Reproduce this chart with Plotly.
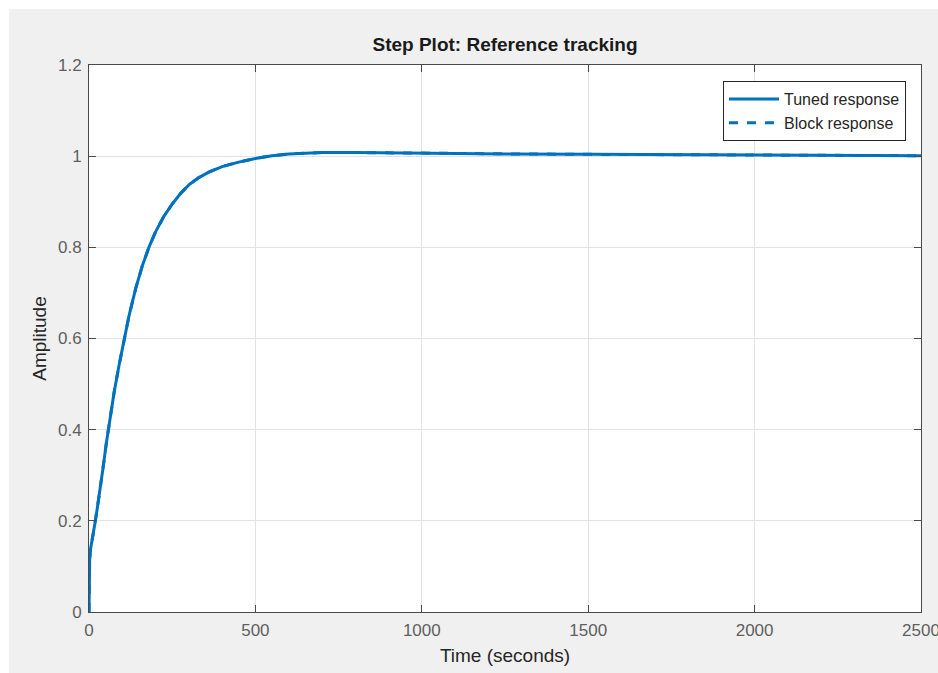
import plotly.graph_objects as go

# Step response samples (time in seconds, amplitude)
time_s = [0, 0.5, 1, 2, 4, 7, 12, 18, 25, 33, 42, 52, 63, 75, 90, 106, 120,
          140, 160, 180, 200, 225, 250, 275, 300, 330, 360, 400, 450, 500,
          550, 600, 650, 700, 800, 900, 1000, 1250, 1500, 1750, 2000, 2250,
          2500]
tuned_amp = [0, 0.06, 0.09, 0.115, 0.135, 0.15, 0.17, 0.195, 0.228, 0.265,
             0.315, 0.37, 0.425, 0.48, 0.54, 0.6, 0.649, 0.709, 0.759, 0.8,
             0.834, 0.868, 0.895, 0.918, 0.937, 0.953, 0.965, 0.977, 0.987,
             0.995, 1.001, 1.005, 1.007, 1.008, 1.008, 1.007, 1.006, 1.005,
             1.004, 1.003, 1.002, 1.0015, 1.001]
block_amp = list(tuned_amp)

x_ticks = [0, 500, 1000, 1500, 2000, 2500]
y_ticks = [0, 0.2, 0.4, 0.6, 0.8, 1, 1.2]
y_tick_text = ["0", "0.2", "0.4", "0.6", "0.8", "1", "1.2"]

LINE = "#0072BD"
FONT = "Liberation Sans, Arial, sans-serif"
AXIS = "#4a4a4a"
TICKTXT = "#5f5f5f"

fig = go.Figure()
fig.add_trace(go.Scatter(x=time_s, y=tuned_amp, mode="lines", name="Tuned response",
                         line=dict(color=LINE, width=3)))
fig.add_trace(go.Scatter(x=time_s, y=block_amp, mode="lines", name="Block response",
                         line=dict(color=LINE, width=3, dash="dash")))

W, H = 938, 673
ml, mr, mt, mb = 89, 17, 65, 61
pw, ph = W - ml - mr, H - mt - mb

def px_x(p):
    return (p - ml) / pw

def px_y(p):
    return (H - mb - p) / ph

# white frame strips around the grey figure background
fig.add_shape(type="rect", xref="paper", yref="paper", layer="below",
              x0=px_x(0), x1=px_x(9), y0=px_y(H), y1=px_y(0),
              fillcolor="white", line=dict(width=0))
fig.add_shape(type="rect", xref="paper", yref="paper", layer="below",
              x0=px_x(0), x1=px_x(W), y0=px_y(9), y1=px_y(0),
              fillcolor="white", line=dict(width=0))

axis_common = dict(
    showline=True, linecolor=AXIS, linewidth=1, mirror="ticks",
    ticks="inside", ticklen=7, tickcolor=AXIS, tickwidth=1,
    showgrid=True, gridcolor="#e3e3e3", gridwidth=1, zeroline=False,
    tickfont=dict(family=FONT, size=17, color=TICKTXT),
    ticklabeloverflow="allow",
)

fig.update_xaxes(range=[0, 2500], tickvals=x_ticks, ticklabelstandoff=3,
                 title=dict(text="Time (seconds)", standoff=9,
                            font=dict(family=FONT, size=19, color="#262626")),
                 **axis_common)
fig.update_yaxes(range=[0, 1.2], tickvals=y_ticks, ticktext=y_tick_text,
                 ticklabelstandoff=3,
                 title=dict(text="Amplitude", standoff=6,
                            font=dict(family=FONT, size=19, color="#262626")),
                 **axis_common)

fig.update_layout(
    width=W, height=H,
    margin=dict(l=ml, r=mr, t=mt, b=mb, autoexpand=False),
    paper_bgcolor="#f0f0f0", plot_bgcolor="white",
    title=dict(text="<b>Step Plot: Reference tracking</b>", x=px_x(505), xanchor="center",
               xref="paper", y=1 - 44 / H, yanchor="middle",
               font=dict(family=FONT, size=19, color="#1a1a1a")),
    legend=dict(x=px_x(906), xanchor="right", y=px_y(81), yanchor="top",
                bgcolor="white", bordercolor="#262626", borderwidth=1,
                font=dict(family=FONT, size=16, color="#262626"),
                itemwidth=50, tracegroupgap=0),
    showlegend=True,
)

fig.write_html("out.html")
